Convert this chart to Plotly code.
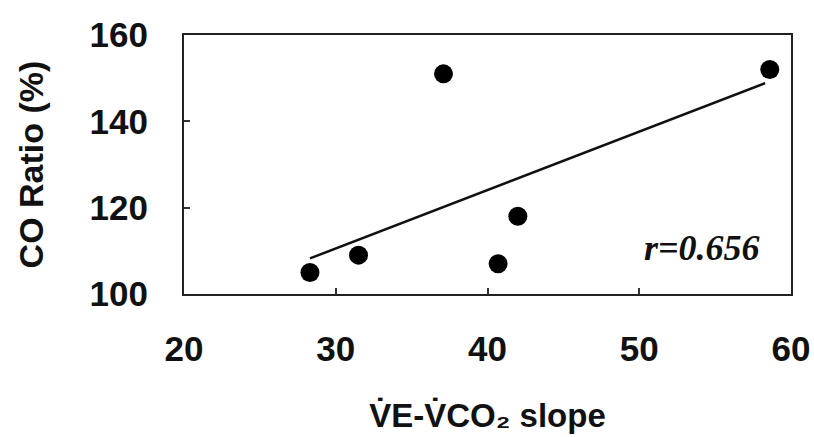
import numpy as np
import plotly.graph_objects as go

slope = [28.3, 31.5, 37.1, 40.7, 42.0, 58.6]
co_ratio = [105, 109, 151, 107, 118, 152]
x_ticks = [20, 30, 40, 50, 60]
y_ticks = [100, 120, 140, 160]
r_label = "r=0.656"

m, b = np.polyfit(slope, co_ratio, 1)
fx = np.array([min(slope), max(slope) - 0.3])
fy = m * fx + b

fig = go.Figure()
fig.add_trace(go.Scatter(x=fx, y=fy, mode="lines",
                         line=dict(color="#111", width=2.5), showlegend=False))
fig.add_trace(go.Scatter(x=slope, y=co_ratio, mode="markers",
                         marker=dict(color="#000", size=19), showlegend=False))

fig.add_annotation(x=54.15, y=110.6, text="<b><i>" + r_label + "</i></b>",
                   showarrow=False,
                   font=dict(family="Liberation Serif", size=36, color="#111",
                             weight="bold", style="italic"))

axis_common = dict(showline=True, linecolor="#222", linewidth=2, mirror=True,
                   ticks="inside", ticklen=6, tickwidth=1.5, tickcolor="#333",
                   showgrid=False, zeroline=False, automargin=False,
                   tickfont=dict(family="Liberation Sans", size=35, color="#111",
                                 weight="bold"))

fig.update_layout(
    width=814, height=437,
    margin=dict(l=184, r=23, t=35, b=143),
    plot_bgcolor="white", paper_bgcolor="white",
    xaxis=dict(range=[20, 60], tickvals=x_ticks, ticklabelstandoff=23,
               title=dict(text="V\u0307E-V\u0307CO\u2082 slope", standoff=37,
                          font=dict(family="Liberation Sans", size=33, color="#111",
                                    weight="bold")),
               **axis_common),
    yaxis=dict(range=[100, 160], tickvals=y_ticks, ticklabelstandoff=27,
               title=dict(text="CO Ratio (%)", standoff=36,
                          font=dict(family="Liberation Sans", size=34, color="#111",
                                    weight="bold")),
               **axis_common),
)

fig.write_html("out.html")
